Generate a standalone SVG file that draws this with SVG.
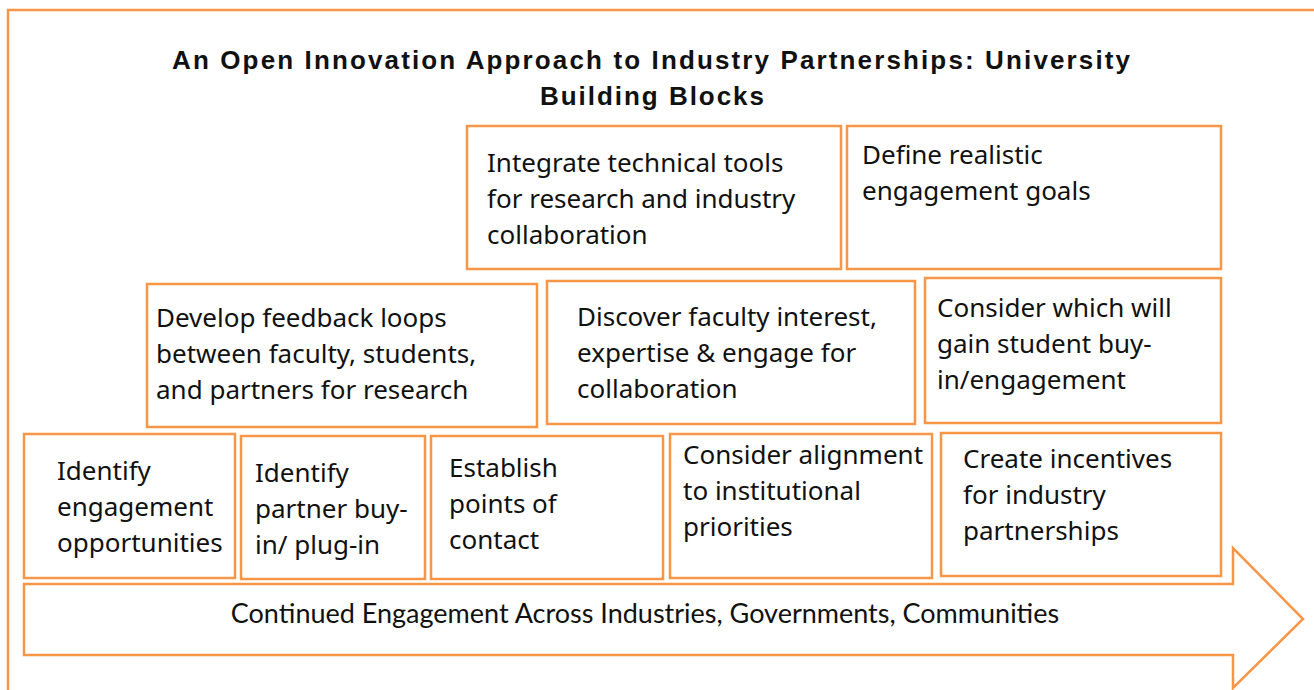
<svg xmlns="http://www.w3.org/2000/svg" width="1314" height="690" viewBox="0 0 1314 690">
  <style>
    .box { fill: #ffffff; stroke: #f79646; stroke-width: 2.5; }
    .frame { fill: none; stroke: #f79646; stroke-width: 2.5; }
    .lbl { font-family: "Noto Sans", "Open Sans", sans-serif; font-size: 26px; fill: #111111; }
    .title { font-family: "Liberation Sans", Arial, sans-serif; font-size: 26px; font-weight: bold; fill: #111111; }
    .band { font-family: Lato, "Open Sans", sans-serif; font-size: 27px; fill: #111111; }
  </style>
  <rect width="1314" height="690" fill="#ffffff"/>

  <!-- outer frame -->
  <path class="frame" d="M8,692 V10 H1316"/>

  <!-- title -->
  <g id="title">
    <text class="title" x="172" y="69" textLength="958" lengthAdjust="spacing">An Open Innovation Approach to Industry Partnerships: University</text>
    <text class="title" x="540" y="105" textLength="224" lengthAdjust="spacing">Building Blocks</text>
  </g>

  <!-- base arrow -->
  <g id="continued-engagement">
    <path class="box" d="M24,584 H1233 V548 L1303,619 L1233,688 V655 H24 Z"/>
    <text class="band" x="645" y="623" text-anchor="middle">Continued Engagement Across Industries, Governments, Communities</text>
  </g>

  <!-- top row -->
  <g id="integrate-tools">
    <rect class="box" x="467" y="126" width="374" height="143"/>
    <text class="lbl" x="487" y="172">Integrate technical tools</text>
    <text class="lbl" x="487" y="208">for research and industry</text>
    <text class="lbl" x="487" y="244">collaboration</text>
  </g>
  <g id="define-goals">
    <rect class="box" x="847" y="126" width="374" height="143"/>
    <text class="lbl" x="862" y="164">Define realistic</text>
    <text class="lbl" x="862" y="200">engagement goals</text>
  </g>

  <!-- middle row -->
  <g id="feedback-loops">
    <rect class="box" x="147" y="284" width="390" height="143"/>
    <text class="lbl" x="156" y="327">Develop feedback loops</text>
    <text class="lbl" x="156" y="363">between faculty, students,</text>
    <text class="lbl" x="156" y="399">and partners for research</text>
  </g>
  <g id="faculty-interest">
    <rect class="box" x="547" y="281" width="368" height="143"/>
    <text class="lbl" x="577" y="326">Discover faculty interest,</text>
    <text class="lbl" x="577" y="362">expertise &amp; engage for</text>
    <text class="lbl" x="577" y="398">collaboration</text>
  </g>
  <g id="student-buy-in">
    <rect class="box" x="925" y="278" width="296" height="145"/>
    <text class="lbl" x="937" y="317">Consider which will</text>
    <text class="lbl" x="937" y="353">gain student buy-</text>
    <text class="lbl" x="937" y="389">in/engagement</text>
  </g>

  <!-- bottom row -->
  <g id="engagement-opportunities">
    <rect class="box" x="24" y="434" width="211" height="144"/>
    <text class="lbl" x="57" y="480">Identify</text>
    <text class="lbl" x="57" y="516">engagement</text>
    <text class="lbl" x="57" y="552">opportunities</text>
  </g>
  <g id="partner-buy-in">
    <rect class="box" x="241" y="436" width="184" height="143"/>
    <text class="lbl" x="255" y="482">Identify</text>
    <text class="lbl" x="255" y="518">partner buy-</text>
    <text class="lbl" x="255" y="554">in/ plug-in</text>
  </g>
  <g id="points-of-contact">
    <rect class="box" x="431" y="436" width="232" height="143"/>
    <text class="lbl" x="449" y="477">Establish</text>
    <text class="lbl" x="449" y="513">points of</text>
    <text class="lbl" x="449" y="549">contact</text>
  </g>
  <g id="institutional-alignment">
    <rect class="box" x="670" y="434" width="262" height="144"/>
    <text class="lbl" x="683" y="464">Consider alignment</text>
    <text class="lbl" x="683" y="500">to institutional</text>
    <text class="lbl" x="683" y="536">priorities</text>
  </g>
  <g id="industry-incentives">
    <rect class="box" x="941" y="433" width="280" height="143"/>
    <text class="lbl" x="963" y="468">Create incentives</text>
    <text class="lbl" x="963" y="504">for industry</text>
    <text class="lbl" x="963" y="540">partnerships</text>
  </g>
</svg>
